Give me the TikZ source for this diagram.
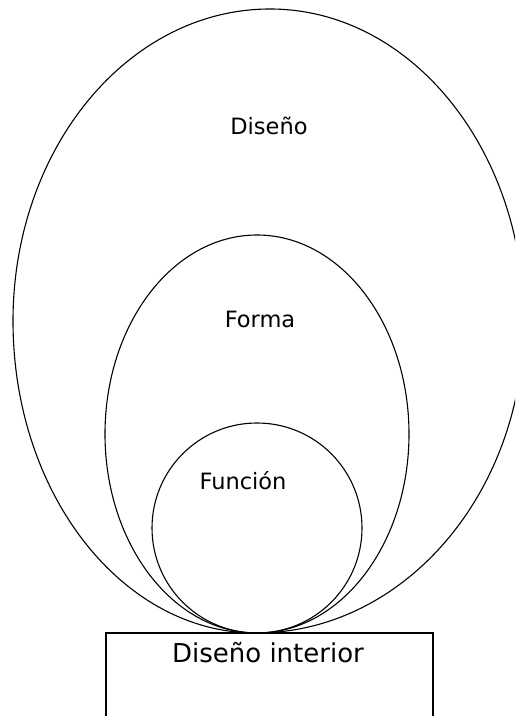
\documentclass[tikz,border=0pt]{standalone}
\usepackage{fontspec}
\setmainfont{DejaVu Sans}
\begin{document}
\begin{tikzpicture}[x=1pt,y=1pt,
  shape line/.style={draw=black,line width=1.1pt},
  label text/.style={anchor=base,inner sep=0pt,font=\fontsize{22.5}{26}\selectfont},
  box text/.style={anchor=base,inner sep=0pt,font=\fontsize{26}{30}\selectfont}]
\useasboundingbox (0,0) rectangle (515,716);
\begin{scope}
\clip (0,0) rectangle (515,716);
% outer egg
\coordinate (bottom) at (256,83);
\draw[shape line] (bottom)
  arc[start angle=270,end angle=180,x radius=243,y radius=312]
  arc[start angle=180,end angle=90,x radius=257,y radius=312]
  arc[start angle=90,end angle=0,x radius=254,y radius=312]
  arc[start angle=0,end angle=-90,x radius=268,y radius=312];
% middle ellipse
\draw[shape line] (257,282) ellipse[x radius=152,y radius=199];
% inner circle
\draw[shape line] (257,188) circle[radius=105];
% box
\coordinate (bl) at (106,-5);
\coordinate (tl) at (106,83);
\coordinate (tr) at (433,83);
\coordinate (br) at (433,-5);
\draw[shape line] (bl) -- (tl) -- (tr) -- (br);
\end{scope}
\node[label text] (diseno) at (269,581) {Diseño};
\node[label text] (forma) at (260,388) {Forma};
\node[label text] (funcion) at (243,226) {Función};
\node[box text] (interior) at (268,53) {Diseño interior};
\end{tikzpicture}
\end{document}
